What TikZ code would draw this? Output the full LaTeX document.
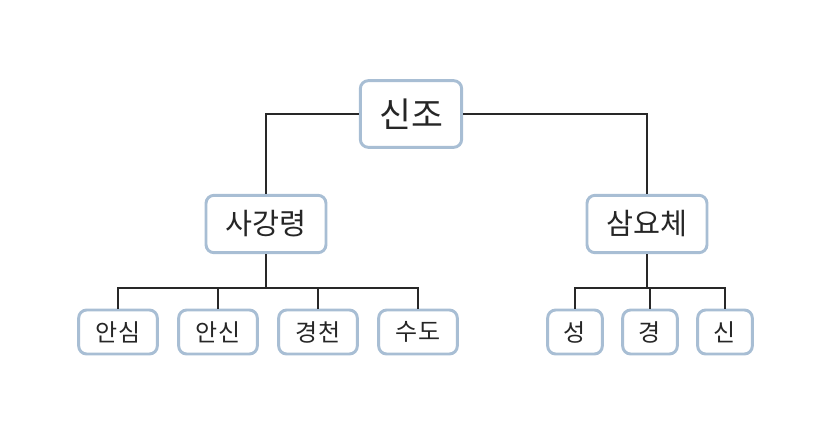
\documentclass[tikz,border=0pt]{standalone}
\usepackage{fontspec}
\newfontfamily\kr{Noto Sans CJK KR}
\usetikzlibrary{positioning}

\definecolor{boxline}{RGB}{168,190,212}
\definecolor{linkline}{RGB}{40,40,40}

\begin{document}
\begin{tikzpicture}[
  x=0.75pt, y=-0.75pt,
  font=\kr,
  box/.style={draw=boxline, line width=2.2pt, rounded corners=6pt, fill=white, inner sep=0pt, text=black!85},
  head/.style={box, minimum width=76pt, minimum height=50pt, font=\kr\fontsize{26}{30}\selectfont},
  group/.style={box, minimum width=90pt, minimum height=43pt, font=\kr\fontsize{22}{26}\selectfont},
  item/.style={box, minimum width=59pt, minimum height=33pt, font=\kr\fontsize{18}{21}\selectfont},
  small/.style={box, minimum width=41pt, minimum height=33pt, font=\kr\fontsize{18}{21}\selectfont},
  link/.style={draw=linkline, line width=1pt}
]
\useasboundingbox (0,0) rectangle (827,429);

\node[head] (sinjo) at (411,114) {신조};

\node[group] (sagang) at (266,224) {사강령};
\node[group] (samyo) at (647,224) {삼요체};

\node[item] (ansim) at (118,332) {안심};
\node[item] (ansin) at (218,332) {안신};
\node[item] (gyeongcheon) at (318,332) {경천};
\node[item] (sudo) at (418,332) {수도};

\node[small] (seong) at (575,332) {성};
\node[small] (gyeong) at (650,332) {경};
\node[small] (sin) at (725,332) {신};

\draw[link] (sinjo.west) -| (sagang.north);
\draw[link] (sinjo.east) -| (samyo.north);

\draw[link, line width=2pt] (sagang.south) -- ++(0,34);
\foreach \k in {ansim, ansin, gyeongcheon, sudo}
  \draw[link] (sagang.south) ++(0,34) -| (\k.north);

\draw[link] (samyo.south) -- ++(0,34);
\foreach \k in {seong, gyeong, sin}
  \draw[link] (samyo.south) ++(0,34) -| (\k.north);
\end{tikzpicture}
\end{document}
